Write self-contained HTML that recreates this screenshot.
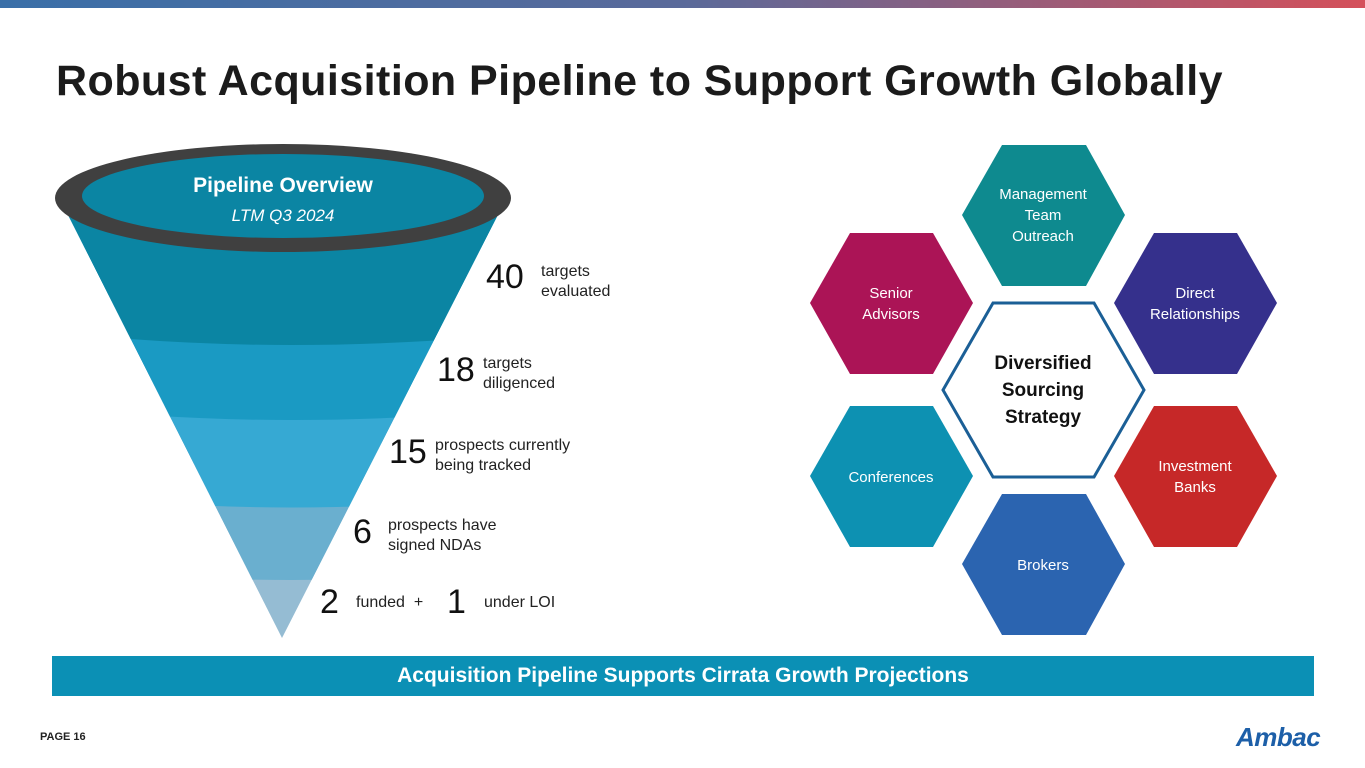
<!DOCTYPE html>
<html><head><style>
body{margin:0;width:1365px;height:768px;overflow:hidden;background:#fff;font-family:"Liberation Sans",sans-serif;position:relative}
.t{position:absolute;white-space:nowrap}
</style></head><body>
<div style="position:absolute;left:0;top:0;width:1365px;height:8px;background:linear-gradient(90deg,#3a6fa8,#5a6a9a 50%,#d5505a)"></div>
<div class="t" style="left:56px;top:57px;font-size:43px;font-weight:bold;color:#1b1b1b;letter-spacing:0.45px">Robust Acquisition Pipeline to Support Growth Globally</div>
<svg width="1365" height="768" style="position:absolute;left:0;top:0">
<defs><clipPath id="c"><polygon points="58,195 508,195 282,638"/></clipPath></defs>
<g clip-path="url(#c)">
<rect x="0" y="150" width="600" height="500" fill="#95bcd3"/>
<path d="M0,150 H600 V560 Q283,600 0,560Z" fill="#6aafcf"/>
<path d="M0,150 H600 V485 Q283,530 0,485Z" fill="#36a9d3"/>
<path d="M0,150 H600 V400 Q283,440 0,400Z" fill="#1a9ac3"/>
<path d="M0,150 H600 V325 Q283,365 0,325Z" fill="#0b85a3"/>
</g>
<ellipse cx="283" cy="198" rx="228" ry="54" fill="#404040"/>
<ellipse cx="283" cy="196" rx="201" ry="42" fill="#0b85a3"/>
<text x="283" y="192" text-anchor="middle" font-size="21" font-weight="bold" fill="#fff" font-family="Liberation Sans">Pipeline Overview</text>
<text x="283" y="221" text-anchor="middle" font-size="17" font-style="italic" fill="#fff" font-family="Liberation Sans">LTM Q3 2024</text>
<g font-family="Liberation Sans" fill="#fff" font-size="15" text-anchor="middle">
<polygon points="962,215 1002,145 1086,145 1125,215 1086,286 1002,286" fill="#0e8a8f"/>
<text x="1043" y="199">Management</text><text x="1043" y="220">Team</text><text x="1043" y="241">Outreach</text>
<polygon points="810,303 850,233 933,233 973,303 933,374 850,374" fill="#ab1456"/>
<text x="891" y="298">Senior</text><text x="891" y="319">Advisors</text>
<polygon points="1114,303 1154,233 1237,233 1277,303 1237,374 1154,374" fill="#35308c"/>
<text x="1195" y="298">Direct</text><text x="1195" y="319">Relationships</text>
<polygon points="810,476 850,406 933,406 973,476 933,547 850,547" fill="#0d91b2"/>
<text x="891" y="482">Conferences</text>
<polygon points="1114,476 1154,406 1237,406 1277,476 1237,547 1154,547" fill="#c62828"/>
<text x="1195" y="471">Investment</text><text x="1195" y="492">Banks</text>
<polygon points="962,564 1002,494 1086,494 1125,564 1086,635 1002,635" fill="#2b64b0"/>
<text x="1043" y="570">Brokers</text>
<polygon points="943,390 993,303 1094,303 1144,390 1094,477 993,477" fill="#fff" stroke="#1b5f96" stroke-width="3"/>
<g fill="#111" font-size="19" font-weight="bold"><text x="1043" y="369">Diversified</text><text x="1043" y="396">Sourcing</text><text x="1043" y="423">Strategy</text></g>
</g>
</svg>
<div class="t" style="left:486px;top:258px;font-size:34px;color:#111">40</div>
<div class="t" style="left:541px;top:262px;font-size:16px;line-height:20px;color:#222">targets<br>evaluated</div>
<div class="t" style="left:437px;top:351px;font-size:34px;color:#111">18</div>
<div class="t" style="left:483px;top:354px;font-size:16px;line-height:20px;color:#222">targets<br>diligenced</div>
<div class="t" style="left:389px;top:433px;font-size:34px;color:#111">15</div>
<div class="t" style="left:435px;top:436px;font-size:16px;line-height:20px;color:#222">prospects currently<br>being tracked</div>
<div class="t" style="left:353px;top:513px;font-size:34px;color:#111">6</div>
<div class="t" style="left:388px;top:516px;font-size:16px;line-height:20px;color:#222">prospects have<br>signed NDAs</div>
<div class="t" style="left:320px;top:583px;font-size:34px;color:#111">2</div>
<div class="t" style="left:356px;top:594px;font-size:16px;color:#222">funded &nbsp;+</div>
<div class="t" style="left:447px;top:583px;font-size:34px;color:#111">1</div>
<div class="t" style="left:484px;top:594px;font-size:16px;color:#222">under LOI</div>
<div style="position:absolute;left:52px;top:656px;width:1262px;height:40px;background:#0b90b5;color:#fff;font-weight:bold;font-size:21px;line-height:40px;text-align:center">Acquisition Pipeline Supports Cirrata Growth Projections</div>
<div class="t" style="left:40px;top:731px;font-size:11px;font-weight:bold;color:#222">PAGE 16</div>
<div class="t" style="left:1236px;top:722px;font-size:26px;font-weight:bold;font-style:italic;color:#1d5fa8;letter-spacing:-0.5px">Ambac</div>
</body></html>
